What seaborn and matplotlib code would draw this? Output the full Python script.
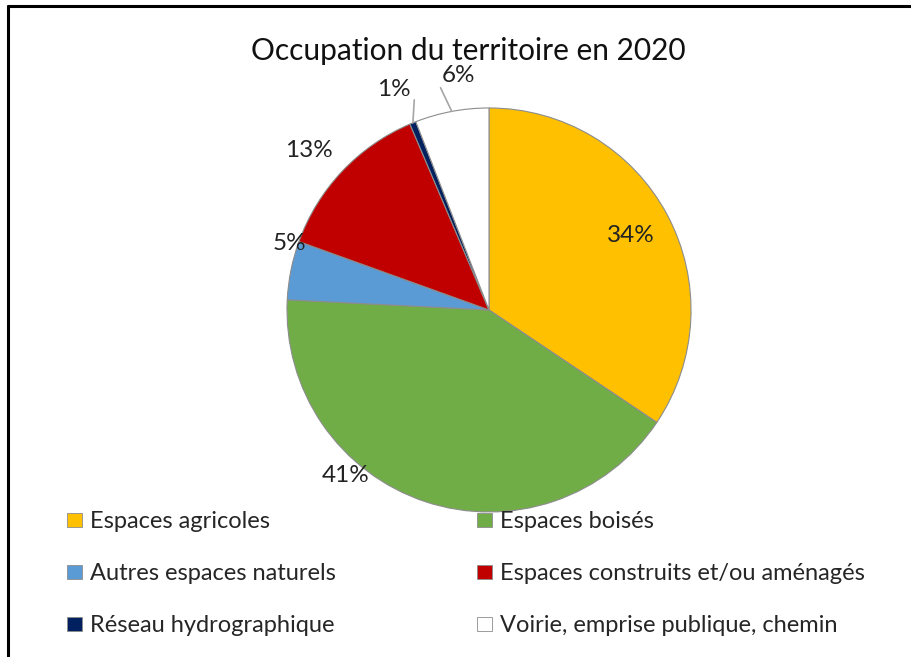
import matplotlib
matplotlib.use("Agg")
import matplotlib.pyplot as plt
import seaborn as sns
import numpy as np
from matplotlib.lines import Line2D
from matplotlib.patches import Patch

# data (percent of territory)
categories = ["Espaces agricoles", "Espaces boisés", "Autres espaces naturels",
              "Espaces construits et/ou aménagés", "Réseau hydrographique",
              "Voirie, emprise publique, chemin"]
values = [34.4, 41.4, 4.7, 13.1, 0.5, 5.9]
colors = ["#FFC000", "#70AD47", "#5B9BD5", "#C00000", "#002060", "#FFFFFF"]

# label positions (pie units, radius = 1) as placed in the picture
label_pos = [(0.70, 0.37), (-0.71, -0.82), (-0.99, 0.33),
             (-0.89, 0.79), (-0.47, 1.09), (-0.15, 1.16)]
leader = [None, None, None, None, (-0.37, 1.04), (-0.24, 1.10)]

sns.set_theme(style="white")
plt.rcParams["font.family"] = ["Lato", "DejaVu Sans"]

fig = plt.figure(figsize=(9.12, 6.57), dpi=100)
ax = fig.add_axes([0.3147, 0.2207, 0.443, 0.615])

wedges, _ = ax.pie(values, colors=colors, startangle=90, counterclock=False,
                   radius=1.0,
                   wedgeprops=dict(edgecolor="#8c8c8c", linewidth=0.8))
ax.set_xlim(-1, 1)
ax.set_ylim(-1, 1)
ax.set_aspect("equal")
ax.axis("off")

for w, v, (lx, ly), ld in zip(wedges, values, label_pos, leader):
    txt = f"{max(1, round(v)):.0f}%"
    ax.text(lx, ly, txt, ha="center", va="center", fontsize=17.5, color="#222222")
    if ld is not None:
        mid = np.deg2rad((w.theta1 + w.theta2) / 2)
        ax.plot([np.cos(mid), ld[0]], [np.sin(mid), ld[1]], color="#a6a6a6",
                lw=1.2, clip_on=False)

fig.text(0.513, 0.922, "Occupation du territoire en 2020", ha="center",
         va="center", fontsize=21.5, color="#111111")

handles = [Patch(facecolor=c, edgecolor="#8c8c8c", linewidth=0.6) for c in colors]
order = [0, 2, 4, 1, 3, 5]
fig.legend([handles[i] for i in order], [categories[i] for i in order],
           loc="upper left", bbox_to_anchor=(0.0735, 0.222), ncol=2,
           frameon=False, fontsize=17, handlelength=0.62, handleheight=0.55,
           handletextpad=0.34, columnspacing=6.0, labelspacing=1.32,
           borderpad=0, borderaxespad=0)

# frame lines left and top
fig.add_artist(Line2D([8 / 912, 8 / 912], [0, 1 - 6 / 657], color="black",
                      lw=2.2, transform=fig.transFigure))
fig.add_artist(Line2D([8 / 912, 1], [1 - 6 / 657, 1 - 6 / 657], color="black",
                      lw=2.2, transform=fig.transFigure))

fig.savefig("out.png", dpi=100)
